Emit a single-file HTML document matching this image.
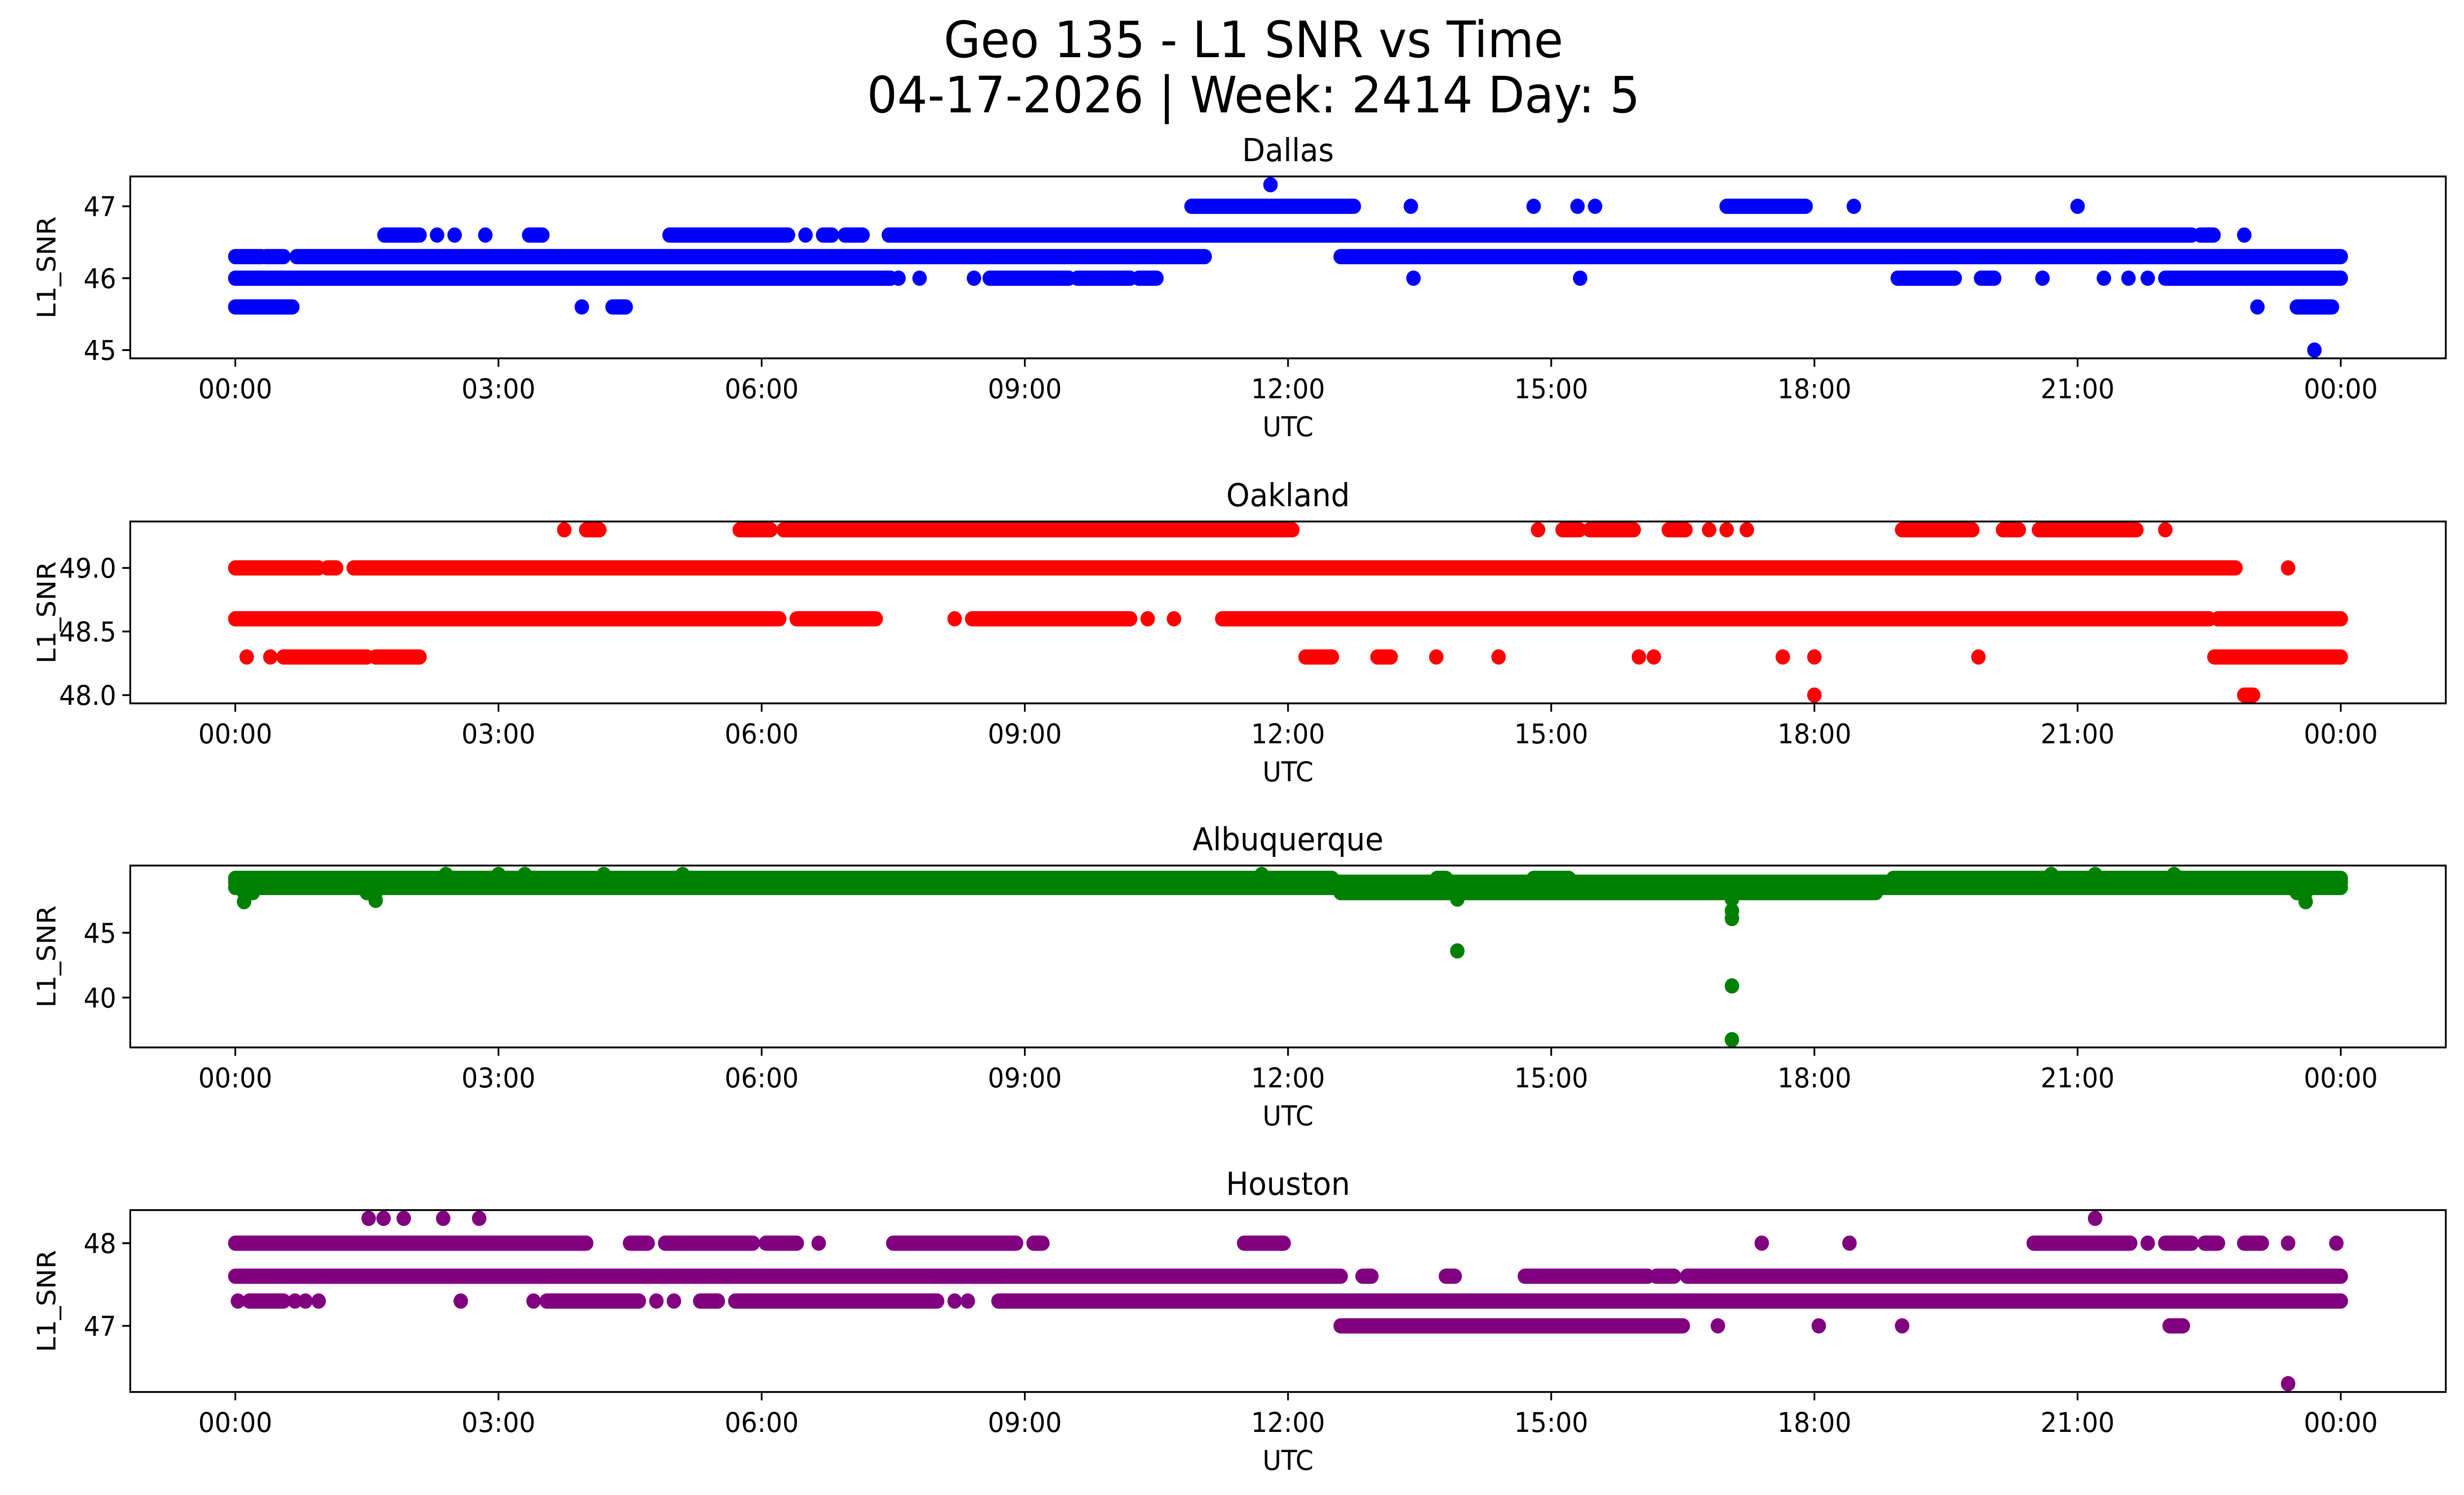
<!DOCTYPE html>
<html><head><meta charset="utf-8"><style>
html,body{margin:0;padding:0;background:#fff;width:100%;height:100%;overflow:hidden;}
svg{display:block;position:fixed;left:0;top:0;width:100vw;height:100vh;font-family:"DejaVu Sans","Liberation Sans",sans-serif;}
</style></head><body>
<svg id="fig" viewBox="0 0 5278 3033" preserveAspectRatio="none" xmlns="http://www.w3.org/2000/svg">
<rect width="5278" height="3033" fill="#fff"/>
<text x="2685" y="116" font-size="102" text-anchor="middle">Geo 135 - L1 SNR vs Time</text>
<text x="2685" y="228" font-size="102" text-anchor="middle">04-17-2026 | Week: 2414 Day: 5</text>
<g id="panels"></g>
</svg>
<script>
// ---- data: runs of [value, startHour, endHour] (single point if end omitted) ----
const panelNames = ["Dallas","Oakland","Albuquerque","Houston"];
const panelColors = ["#0000ff","#ff0000","#008000","#800080"];
const xTickHours = [0,3,6,9,12,15,18,21,24];
const xTickLabels = ["00:00","03:00","06:00","09:00","12:00","15:00","18:00","21:00","00:00"];
const dallasTicks = [45,46,47];
const oaklandTicks = [48.0,48.5,49.0];
const albuquerqueTicks = [40,45];
const houstonTicks = [47,48];
const dallasRuns = [
 [47.3,11.8],
 [47.0,10.9,12.75],[47.0,13.4],[47.0,14.8],[47.0,15.3],[47.0,15.5],[47.0,17.0,17.9],[47.0,18.45],[47.0,21.0],
 [46.6,1.7,2.1],[46.6,2.3],[46.6,2.5],[46.6,2.85],[46.6,3.35,3.5],[46.6,4.95,6.3],[46.6,6.5],[46.6,6.7,6.8],[46.6,6.95,7.15],[46.6,7.45,22.3],[46.6,22.4,22.55],[46.6,22.9],
 [46.3,0,0.3],[46.3,0.35,0.55],[46.3,0.7,11.05],[46.3,12.6,24],
 [46.0,0,7.47],[46.0,7.56],[46.0,7.8],[46.0,8.42],[46.0,8.6,9.5],[46.0,9.6,10.2],[46.0,10.3,10.5],[46.0,13.43],[46.0,15.33],[46.0,18.95,19.6],[46.0,19.9,20.05],[46.0,20.6],[46.0,21.3],[46.0,21.58],[46.0,21.8],[46.0,22.0,24],
 [45.6,0,0.65],[45.6,3.95],[45.6,4.3,4.45],[45.6,23.05],[45.6,23.5,23.9],
 [45.0,23.7]
];
const oaklandRuns = [
 [49.3,3.75],[49.3,4.0,4.15],[49.3,5.75,6.1],[49.3,6.25,12.05],[49.3,14.85],[49.3,15.13,15.32],[49.3,15.44,15.94],[49.3,16.34,16.53],[49.3,16.8],[49.3,17.0],[49.3,17.23],[49.3,19.0,19.8],[49.3,20.15,20.33],[49.3,20.56,21.67],[49.3,22.0],
 [49.0,0,0.95],[49.0,1.05,1.15],[49.0,1.35,22.8],[49.0,23.4],
 [48.6,0,6.2],[48.6,6.4,7.3],[48.6,8.2],[48.6,8.4,10.2],[48.6,10.4],[48.6,10.7],[48.6,11.25,22.5],[48.6,22.6,24],
 [48.3,0.13],[48.3,0.4],[48.3,0.55,1.5],[48.3,1.6,2.1],[48.3,12.2,12.5],[48.3,13.02,13.17],[48.3,13.69],[48.3,14.4],[48.3,16.0],[48.3,16.17],[48.3,17.64],[48.3,18.0],[48.3,19.87],[48.3,22.56,24],
 [48.0,18.0],[48.0,22.9,23.0]
];
const albuquerqueRuns = [
 [49.5,2.4],[49.5,3.0],[49.5,3.3],[49.5,4.2],[49.5,5.1],[49.5,11.7],[49.5,20.7],[49.5,21.2],[49.5,22.1],
 [49.2,0,12.5],[49.2,13.7,13.8],[49.2,14.8,15.2],[49.2,18.9,24],
 [48.9,0,24],[48.5,0,24],
 [48.1,0.1,0.2],[48.1,1.5,1.6],[48.1,12.6,18.7],[48.1,23.5,23.6],
 [47.4,0.1],[47.5,1.6],[47.6,13.93],[43.6,13.93],[47.6,17.06],[46.7,17.06],[46.1,17.06],[40.9,17.06],[36.75,17.06],[47.4,23.6]
];
const houstonRuns = [
 [48.3,1.52],[48.3,1.69],[48.3,1.92],[48.3,2.37],[48.3,2.78],[48.3,21.2],
 [48.0,0,4.0],[48.0,4.5,4.7],[48.0,4.9,5.9],[48.0,6.05,6.4],[48.0,6.65],[48.0,7.5,8.9],[48.0,9.1,9.2],[48.0,11.5,11.95],[48.0,17.4],[48.0,18.4],[48.0,20.5,21.6],[48.0,21.8],[48.0,22.0,22.3],[48.0,22.45,22.6],[48.0,22.9,23.1],[48.0,23.4],[48.0,23.95],
 [47.6,0,12.6],[47.6,12.85,12.95],[47.6,13.8,13.9],[47.6,14.7,16.1],[47.6,16.2,16.4],[47.6,16.55,24],
 [47.3,0.03],[47.3,0.16,0.55],[47.3,0.68],[47.3,0.8],[47.3,0.95],[47.3,2.57],[47.3,3.4],[47.3,3.55,4.6],[47.3,4.8],[47.3,5.0],[47.3,5.3,5.5],[47.3,5.7,8.0],[47.3,8.2],[47.3,8.35],[47.3,8.7,24],
 [47.0,12.6,16.5],[47.0,16.9],[47.0,18.05],[47.0,19.0],[47.0,22.05,22.2],
 [46.3,23.4]
];
const allRuns = [dallasRuns, oaklandRuns, albuquerqueRuns, houstonRuns];
const allTicks = [dallasTicks, oaklandTicks, albuquerqueTicks, houstonTicks];
const fixedYLim = [null, null, [36.15,50.19], null];

// ---- layout ----
const NS="http://www.w3.org/2000/svg";
const L=279, R=5239, H=369, TOPS=[358,1058,1756,2455];
const xScale = h => 504 + h*(5014-504)/24;
function mk(tag, attrs, parent){const e=document.createElementNS(NS,tag);for(const k in attrs)e.setAttribute(k,attrs[k]);parent.appendChild(e);return e;}
const root=document.getElementById('panels');

allRuns.forEach((runs,i)=>{
  const top=TOPS[i], bot=top+H;
  let lo,hi;
  if(fixedYLim[i]){[lo,hi]=fixedYLim[i];}
  else{
    const vals=runs.map(r=>r[0]);const mn=Math.min(...vals),mx=Math.max(...vals);const m=(mx-mn)*0.05;lo=mn-m;hi=mx+m;
  }
  const yScale=v=>bot-(v-lo)/(hi-lo)*H;
  const g=mk('g',{},root);
  
  
  const pts=mk('g',{fill:panelColors[i],stroke:panelColors[i]},g);
  
  
  runs.forEach(r=>{
    const y=yScale(r[0]);
    if(r.length<3||r[2]===r[1]){
      const c=mk('circle',{cx:xScale(r[1]),cy:y,r:15.5,stroke:'none'},pts);
      
      
    } else {
      const ln=mk('line',{x1:xScale(r[1]),x2:xScale(r[2]),y1:y,y2:y,'stroke-width':31,'stroke-linecap':'round'},pts);
      
      
    }
  });
  const frame=mk('rect',{x:L,y:top,width:R-L,height:H,fill:'none',stroke:'#000','stroke-width':3.7},g);
  
  
  xTickHours.forEach((h,k)=>{
    const x=xScale(h);
    mk('line',{x1:x,x2:x,y1:bot,y2:bot+17,stroke:'#000','stroke-width':3.7},g);
    const t=mk('text',{x:x,y:bot+81,'font-size':55,'text-anchor':'middle'},g);
    t.textContent=xTickLabels[k];
    
    
  });
  allTicks[i].forEach(v=>{
    const y=yScale(v);
    mk('line',{x1:L-17,x2:L,y1:y,y2:y,stroke:'#000','stroke-width':3.7},g);
    const t=mk('text',{x:L-30,y:y+20,'font-size':55,'text-anchor':'end'},g);
    t.textContent=(i===1)?v.toFixed(1):String(v);
    
    
  });
  const tt=mk('text',{x:(L+R)/2,y:top-31,'font-size':64,'text-anchor':'middle'},g);
  tt.textContent=panelNames[i];
  
  
  const xl=mk('text',{x:(L+R)/2,y:bot+158,'font-size':55,'text-anchor':'middle'},g);
  xl.textContent='UTC';
  
  
  const cy=(top+bot)/2;
  const yl=mk('text',{x:119,y:cy,'font-size':55,'text-anchor':'middle',transform:`rotate(-90 119 ${cy})`},g);
  yl.textContent='L1_SNR';
  
  
});
</script>
</body></html>
